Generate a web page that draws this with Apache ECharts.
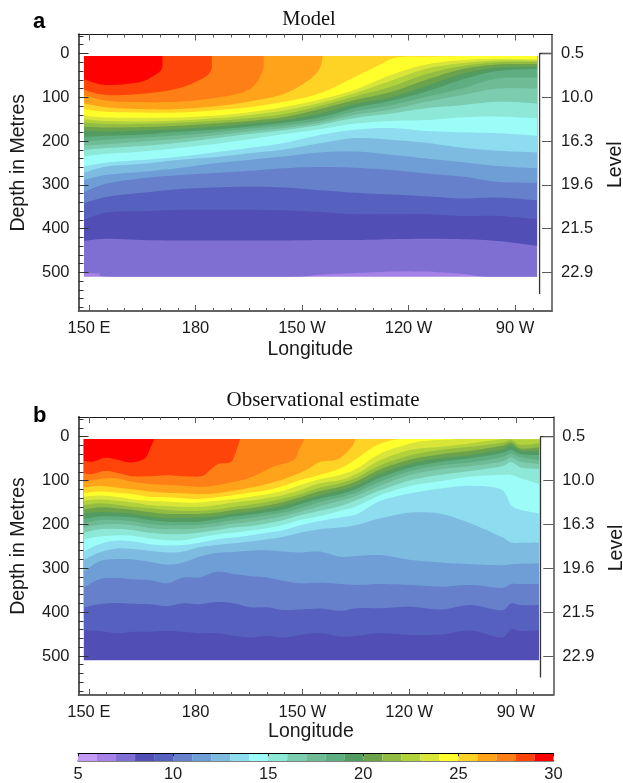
<!DOCTYPE html>
<html><head><meta charset="utf-8">
<style>html,body{margin:0;padding:0;background:#fff}#c{width:623px;height:783px}</style>
<script src="https://cdn.jsdelivr.net/npm/echarts@6/dist/echarts.min.js"></script>
</head><body><div id="c"></div>
<script>
// ---------- Colour scale: one colour per degree from 5 to 30 ----------
const bandColors = ['#c499f8','#a581e8','#806fd3','#514eb5','#5660bf','#6680cb','#6f9dd6','#7dbbe0','#8edcef','#9cfdf8',
  '#8de8d8','#7cccb0','#6ebb96','#5fae82','#529c62','#6ba34d','#93bc42','#b2d23c','#d9e639','#ffff2b',
  '#ffd325','#ffa31b','#ff7f17','#ff4409','#ff0000'];
const scaleTicks = [5,10,15,20,25,30];

// ---------- Axis ticks ----------
const lonTicks = [150,180,210,240,270];
const lonLabels = ['150 E','180','150 W','120 W','90 W'];
const lonMinor = [155,160,165,170,175,185,190,195,200,205,215,220,225,230,235,245,250,255,260,265,275];
const depthTicks = [0,100,200,300,400,500];
const depthMinor = [-40,-20,20,40,60,80,120,140,160,180,220,240,260,280,320,340,360,380,420,440,460,480,520,540,560,580];
const levelLabels = ['0.5','10.0','16.3','19.6','21.5','22.9'];

const seaSurface = 5.5, seaBottom = 509.6;

// ---------- Panel a: depth of each isotherm (deg C) by longitude ----------
const modelLon = [148.6,155,165,175,185,195,205,215,225,235,245,255,265,276.2];
const modelT6  = [[148.6,509.6],[276.2,509.6]];
const modelT7  = [[148.6,502],[153,502],[157,509.6],[205,509.6],[215,505],[225,501],[235,498],[245,498],[255,503],[262,509.6],[276.2,509.6]];
const modelT8  = [428,423,426,427,427,427,427,426,426,424,423,424,428,439];
const modelT9  = [380,363,360,357,357,357,358,362,367,367,367,371,371,378];
const modelT10 = [342,327,318,310,306,304,306,312,318,322,326,331,329,335];
const modelT11 = [316,297,285,278,273,268,262,259,261,266,274,281,293,295];
const modelT12 = [289,277,270,262,251,243,235,226,224,231,240,248,257,262];
const modelT13 = [272,258,252,243,237,228,219,205,193,197,204,215,222,226];
const modelT14 = [258,249,243,236,226,216,204,186,174,170,177,180,182,188];
const modelT15 = [235,229,224,216,207,196,184,173,160,154,152,146,144,148];
const modelT16 = [220,216,211,204,194,184,175,163,147,137,125,118,110,114];
const modelT17 = [210,207,201,195,187,178,170,158,140,128,110,95,80,80];
const modelT18 = [201,197,192,187,180,172,164,153,132,118,99,80,57,55];
const modelT19 = [191,188,185,179,174,167,158,146,124,108,87,60,40,35];
const modelT20 = [176,178,176,172,167,160,152,137,115,100,74,47,32,30];
const modelT21 = [167,169,168,165,160,154,145,127,106,88,60,36,25,24];
const modelT22 = [158,161,161,158,154,148,138,120,98,76,47,29,20,19];
const modelT23 = [150,154,155,153,148,141,130,113,90,62,35,22,16,16];
const modelT24 = [142,146,147,146,142,134,122,105,82,49,25,15,12,13];
const modelT25 = [[148.6,127],[155,133],[165,135],[175,135],[185,130],[195,123],[205,110],[215,91],[225,53],[232,25],[236.6,9],[245,7],[258,5.5]];
const modelT26 = [[148.6,114],[155,123],[165,127],[175,127],[185,121],[195,110],[205,92],[212,60],[215,34],[215.8,5.5]];
const modelT27 = [[148.6,95],[155,108],[165,111],[175,110],[185,102],[195,83],[198.8,41],[199.2,5.5]];
const modelT28 = [[148.6,83],[155,95],[165,92],[175,80],[182,57],[184.4,38],[184.6,5.5]];
const modelT29 = [[148.6,59],[152,68],[155,72],[160,70],[165,64],[168,52],[170.5,35],[170.7,5.5]];

// ---------- Panel b: depth of each isotherm (deg C) by longitude ----------
const obsLon = [148.6,153,157.8,162.4,167,172,176.5,181,186,190.7,195.4,200,204.7,209.4,215,220.7,225.4,232,240.5,249,257.3,265.8,268.6,271.4,276.5];
const obsT8  = [[148.6,509.6],[276.5,509.6]];
const obsT9  = [441,443,448,445,445,443,445,448,448,454,458,454,458,452,448,456,454,448,452,451,442,458,439,443,442];
const obsT10 = [389,382,379,381,382,386,380,382,377,380,389,389,395,394,392,397,391,391,388,394,384,396,380,384,384];
const obsT11 = [344,325,322,325,327,334,321,321,308,313,318,321,329,334,333,336,338,336,338,342,338,345,336,336,336];
const obsT12 = [308,284,279,280,285,292,287,274,265,263,260,259,262,264,262,274,272,270,281,287,291,293,291,290,289];
const obsT13 = [281,264,255,256,260,264,262,252,247,243,239,234,228,219,211,207,201,186,173,176,198,228,241,242,241];
const obsT14 = [262,245,237,239,245,248,247,242,234,230,225,219,213,202,192,184,176,146,129,118,112,120,156,167,175];
const obsT15 = [234,228,225,226,232,236,236,230,223,219,214,209,201,190,181,169,158,133,112,101,91,87,87,95,108];
const obsT16 = [219,211,210,213,219,222,222,219,213,207,204,198,190,179,169,158,144,122,99,87,78,68,58,70,74];
const obsT17 = [207,201,199,202,208,211,211,209,204,198,194,188,181,171,158,146,134,111,87,74,67,57,47,57,62];
const obsT18 = [198,190,190,193,199,202,202,201,196,190,185,179,173,163,149,138,126,102,78,65,59,47,38,47,53];
const obsT19 = [188,182,182,184,190,194,194,194,188,182,178,172,166,154,141,131,118,93,70,57,49,38,30,40,42];
const obsT20 = [175,172,173,176,182,186,185,184,181,175,171,164,157,146,133,122,110,84,61,49,42,29,20,32,32];
const obsT21 = [166,161,163,167,172,176,176,176,173,167,163,157,149,138,124,114,101,74,52,40,32,21,14,27,24];
const obsT22 = [156,152,155,160,163,167,169,169,166,160,155,149,141,131,116,106,93,65,42,30,23,14,8,19,15];
const obsT23 = [146,143,146,150,156,158,160,160,156,150,146,140,133,122,106,99,84,53,30,23,15,6,5.5,6,6];
const obsT24 = [[148.6,137],[153,134],[157.8,137],[162.4,143],[167,146],[172,148],[176.5,150],[181,150],[186,146],[190.7,142],[195.4,137],[200,131],[204.7,123],[209.4,110],[215,97],[220.7,87],[225.4,72],[232,38],[240.5,15],[245,9],[253.6,5.5]];
const obsT25 = [[148.6,128],[153,125],[157.8,128],[162.4,131],[167,137],[172,138],[176.5,141],[181,142],[186,138],[190.7,133],[195,128],[200,122],[204.7,112],[209.4,99],[215,87],[220.7,72],[225.4,49],[231,19],[236.6,5.5]];
const obsT26 = [[148.6,116],[153,112],[157.8,116],[162.4,120],[167,125],[172,128],[176.5,129],[181,131],[186,129],[190.7,123],[195.4,116],[200,108],[204.7,97],[209.4,82],[212,72],[215,57],[219.8,52],[223.5,27],[225,5.5]];
const obsT27 = [[148.6,103],[151.2,99],[155,95],[157.8,95],[162.4,103],[167,108],[172,110],[176.5,112],[181,114],[185,112],[190.7,103],[195.4,93],[202,68],[207.6,53],[209,30],[210.6,5.5]];
const obsT28 = [[148.6,84],[151.2,85],[154.5,78],[157.8,82],[162,90],[167.2,90],[171.9,88],[176.5,90],[181.7,90],[184.1,76],[186.4,62],[189.7,59],[191,42],[192.5,5.5]];
const obsT29 = [[148.6,55],[151.2,57],[154.5,48],[157.8,52],[162,59],[165.8,49],[167.2,27],[168.4,5.5]];

// Level bracket lines (longitude, depth)
const bracketA = [[280.4,0],[276.9,0],[276.9,549]];
const bracketB = [[280.5,0],[276.9,0],[276.9,549]];

const zip = (lon, depth) => depth.map((d,i)=>[lon[i],d]);
const modelIso = [[6,modelT6],[7,modelT7],[8,zip(modelLon,modelT8)],[9,zip(modelLon,modelT9)],[10,zip(modelLon,modelT10)],[11,zip(modelLon,modelT11)],[12,zip(modelLon,modelT12)],[13,zip(modelLon,modelT13)],[14,zip(modelLon,modelT14)],[15,zip(modelLon,modelT15)],[16,zip(modelLon,modelT16)],[17,zip(modelLon,modelT17)],[18,zip(modelLon,modelT18)],[19,zip(modelLon,modelT19)],[20,zip(modelLon,modelT20)],[21,zip(modelLon,modelT21)],[22,zip(modelLon,modelT22)],[23,zip(modelLon,modelT23)],[24,zip(modelLon,modelT24)],[25,modelT25],[26,modelT26],[27,modelT27],[28,modelT28],[29,modelT29]];
const obsIso = [[8,obsT8],[9,zip(obsLon,obsT9)],[10,zip(obsLon,obsT10)],[11,zip(obsLon,obsT11)],[12,zip(obsLon,obsT12)],[13,zip(obsLon,obsT13)],[14,zip(obsLon,obsT14)],[15,zip(obsLon,obsT15)],[16,zip(obsLon,obsT16)],[17,zip(obsLon,obsT17)],[18,zip(obsLon,obsT18)],[19,zip(obsLon,obsT19)],[20,zip(obsLon,obsT20)],[21,zip(obsLon,obsT21)],[22,zip(obsLon,obsT22)],[23,zip(obsLon,obsT23)],[24,obsT24],[25,obsT25],[26,obsT26],[27,obsT27],[28,obsT28],[29,obsT29]];

const SANS = '"Liberation Sans",Arial,sans-serif', SERIF = '"Liberation Serif","Times New Roman",serif';
const INK = '#1a1a1a', GREY = '#5a5a5a';
const xAxes = [], yAxes = [], series = [];

// Rounds the drawn outline between the read-off points (drawing only).
function curve(pts, yTop, yBottom) {
  const out = [];
  for (let i = 0; i < pts.length - 1; i++) {
    const p0 = pts[Math.max(i-1,0)], p1 = pts[i], p2 = pts[i+1], p3 = pts[Math.min(i+2,pts.length-1)];
    for (let s = 0; s < 6; s++) {
      const t = s/6, t2 = t*t, t3 = t2*t;
      const f = k => 0.5*((2*p1[k]) + (p2[k]-p0[k])*t + (2*p0[k]-5*p1[k]+4*p2[k]-p3[k])*t2 + (3*p1[k]-p0[k]-3*p2[k]+p3[k])*t3);
      const lo = Math.min(p1[0],p2[0]), hi = Math.max(p1[0],p2[0]);
      out.push([Math.min(hi,Math.max(lo,f(0))), Math.min(yBottom,Math.max(yTop,f(1)))]);
    }
  }
  out.push(pts[pts.length-1]);
  return out;
}

function panel(gridIndex, xMin, xMax, yMin, yMax, iso, bracket, nameGap, levelGap) {
  const xBase = xAxes.length, yBase = yAxes.length;
  const line = (color,w)=>({show:true,onZero:false,lineStyle:{color,width:w}});
  const xa = (position,values,len,labels,color,w) => ({gridIndex,type:'value',position,min:xMin,max:xMax,z:5,
    splitLine:{show:false},axisLine:line(color,w),
    axisTick:{show:true,inside:true,length:len,customValues:values,lineStyle:{color:GREY,width:1}},
    axisLabel:labels?{show:true,customValues:lonTicks,margin:9,fontFamily:SANS,fontSize:16.5,color:INK,formatter:v=>lonLabels[lonTicks.indexOf(v)]}:{show:false}});
  const bottom = xa('bottom',lonTicks,6,true,GREY,1.5);
  bottom.name='Longitude'; bottom.nameLocation='middle'; bottom.nameGap=nameGap;
  bottom.nameTextStyle={fontFamily:SANS,fontSize:19.5,color:INK,padding:[0,10,0,0]};
  xAxes.push(bottom, xa('bottom',lonMinor,3,false,GREY,1.5), xa('top',lonTicks,6,false,INK,1.2), xa('top',lonMinor,3,false,INK,1.2));
  const ya = (position,values,len,labelValues,labelFn,color,w) => ({gridIndex,type:'value',position,inverse:true,min:yMin,max:yMax,z:5,
    splitLine:{show:false},axisLine:line(color,w),
    axisTick:{show:true,inside:true,length:len,customValues:values,lineStyle:{color:position==='left'?'#333':GREY,width:1}},
    axisLabel:labelValues?{show:true,customValues:labelValues,margin:9,fontFamily:SANS,fontSize:16.5,color:INK,formatter:labelFn}:{show:false}});
  const left = ya('left',depthTicks,10,depthTicks,v=>String(v),GREY,1.8);
  left.name='Depth in Metres'; left.nameLocation='middle'; left.nameGap=50; left.nameRotate=90;
  left.nameTextStyle={fontFamily:SANS,fontSize:19.5,color:INK,padding:[0,0,0,20]};
  const right = ya('right',depthTicks,10,depthTicks,v=>levelLabels[depthTicks.indexOf(v)],GREY,1.6);
  right.name='Level'; right.nameLocation='middle'; right.nameGap=levelGap; right.nameRotate=90;
  right.nameTextStyle={fontFamily:SANS,fontSize:19.5,color:INK,padding:[0,0,0,16]};
  yAxes.push(left, ya('left',depthMinor,5,null,null,GREY,1.8), right);
  iso.forEach(([t,points]) => {
    const fill = bandColors[t-5];
    series.push({type:'custom',coordinateSystem:'cartesian2d',xAxisIndex:xBase,yAxisIndex:yBase,name:'T'+t,
      data:points,encode:{x:0,y:1},silent:true,clip:true,animation:false,z:2,
      renderItem:(params,api)=>{
        if(params.dataIndex!==0) return null;
        const yTop = api.coord([points[0][0],seaSurface])[1], yBottom = api.coord([points[0][0],seaBottom])[1];
        const pts = curve(points.map(p=>api.coord(p)), yTop, yBottom);
        pts.push(api.coord([points[points.length-1][0],seaSurface]));
        pts.push(api.coord([points[0][0],seaSurface]));
        return {type:'polygon',shape:{points:pts},style:{fill}};
      }});
  });
  series.push({type:'line',xAxisIndex:xBase,yAxisIndex:yBase,data:bracket,showSymbol:false,silent:true,animation:false,z:4,clip:false,
    lineStyle:{color:'#333',width:1.3}});
}

panel(0,147.04,280.4,-43.4,588,modelIso,bracketA,29,54);
panel(1,147.1,280.5,-44.9,589,obsIso,bracketB,27,53);

// colour bar
const cbX = xAxes.length, cbY = yAxes.length;
xAxes.push({gridIndex:2,type:'value',position:'bottom',min:5,max:30,splitLine:{show:false},
  axisLine:{show:true,lineStyle:{color:GREY,width:1.5}},axisTick:{show:false},
  axisLabel:{show:true,customValues:scaleTicks,margin:5,fontFamily:SANS,fontSize:16.5,color:INK,formatter:v=>String(v)}});
xAxes.push({gridIndex:2,type:'value',position:'top',min:5,max:30,splitLine:{show:false},z:5,
  axisLine:{show:true,lineStyle:{color:'#000',width:1}},
  axisTick:{show:true,inside:true,length:3,customValues:scaleTicks,lineStyle:{color:'#222',width:1}},axisLabel:{show:false}});
yAxes.push({gridIndex:2,type:'value',min:0,max:1,show:false});
series.push({type:'custom',coordinateSystem:'cartesian2d',xAxisIndex:cbX,yAxisIndex:cbY,name:'scale',silent:true,animation:false,
  data:bandColors.map((c,i)=>[5+i,6+i]),encode:{x:[0,1]},
  renderItem:(params,api)=>{
    const a=api.coord([api.value(0),1]), b=api.coord([api.value(1),0]);
    return {type:'rect',shape:{x:a[0],y:a[1],width:b[0]-a[0],height:b[1]-a[1]},style:{fill:bandColors[params.dataIndex]}};
  }});

const chart = echarts.init(document.getElementById('c'),null,{renderer:'canvas'});
chart.setOption({
  animation:false,backgroundColor:'#fff',tooltip:{show:false},
  title:[
    {text:'a',left:28,top:6,textStyle:{fontFamily:SANS,fontSize:22,fontWeight:'bold',color:'#000'}},
    {text:'Model',left:304,top:4,textAlign:'center',textStyle:{fontFamily:SERIF,fontSize:20.5,fontWeight:'normal',color:'#111'}},
    {text:'b',left:28,top:400,textStyle:{fontFamily:SANS,fontSize:22,fontWeight:'bold',color:'#000'}},
    {text:'Observational estimate',left:318,top:385,textAlign:'center',textStyle:{fontFamily:SERIF,fontSize:21,fontWeight:'normal',color:'#111'}}
  ],
  grid:[
    {left:78.5,top:34.5,width:473.5,height:276.5,outerBoundsMode:'none'},
    {left:78.5,top:417,width:474.8,height:278,outerBoundsMode:'none'},
    {left:78,top:753.3,width:475.5,height:7.7,outerBoundsMode:'none'}
  ],
  xAxis:xAxes,yAxis:yAxes,series
});
</script></body></html>
